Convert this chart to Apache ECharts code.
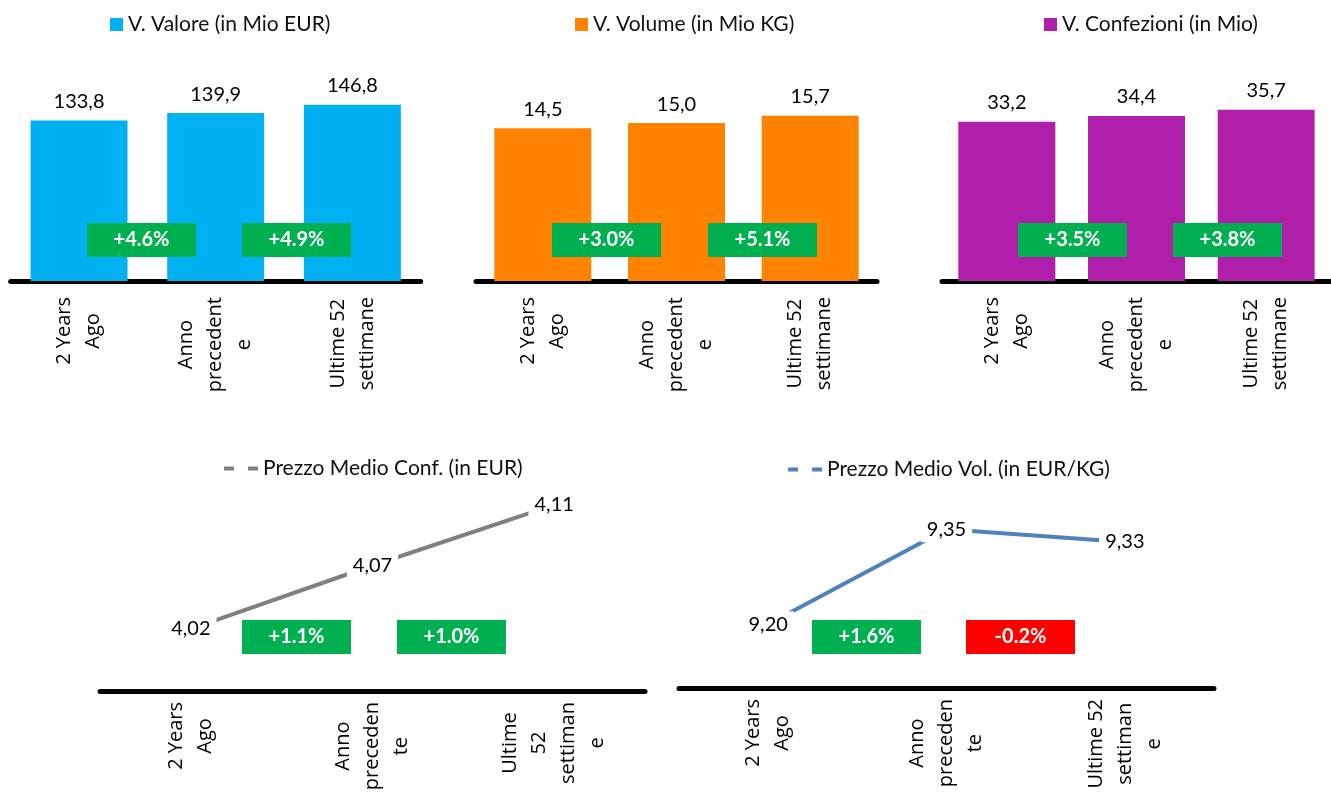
<!DOCTYPE html>
<html>
<head>
<meta charset="utf-8">
<script src="https://cdn.jsdelivr.net/npm/echarts@6/dist/echarts.min.js"></script>
<style>
  html, body { margin: 0; padding: 0; background: #fff; }
  #chart { width: 1331px; height: 794px; }
</style>
</head>
<body>
<div id="chart"></div>
<script>
// categories, wrapped the same way as in the original sheet
const barCategories = ['2 Years\nAgo', 'Anno\nprecedent\ne', 'Ultime 52\nsettimane'];
const confCategories = ['2 Years\nAgo', 'Anno\npreceden\nte', 'Ultime\n52\nsettiman\ne'];
const volCategories = ['2 Years\nAgo', 'Anno\npreceden\nte', 'Ultime 52\nsettiman\ne'];

// series values
const valoreValues = [133.8, 139.9, 146.8];
const volumeValues = [14.5, 15.0, 15.7];
const confezioniValues = [33.2, 34.4, 35.7];
const prezzoConfValues = [4.02, 4.066, 4.11];
const prezzoVolValues = [9.20, 9.35, 9.33];

// variation badges
const valoreChange = ['+4.6%', '+4.9%'];
const volumeChange = ['+3.0%', '+5.1%'];
const confezioniChange = ['+3.5%', '+3.8%'];
const prezzoConfChange = ['+1.1%', '+1.0%'];
const prezzoVolChange = ['+1.6%', '-0.2%'];

const names = ['V. Valore (in Mio EUR)', 'V. Volume (in Mio KG)', 'V. Confezioni (in Mio)',
  'Prezzo Medio Conf. (in EUR)', 'Prezzo Medio Vol. (in EUR/KG)'];

const LABEL_FONT = 'Lato';
const AXIS_FONT = '"Open Sans"';

const chart = echarts.init(document.getElementById('chart'));

const comma = (d) => (p) => p.value.toFixed(d).replace('.', ',');

function xAxisFor(gridIndex, data, margin) {
  return {
    type: 'category',
    gridIndex,
    data,
    axisTick: { show: false },
    axisLine: { lineStyle: { color: '#000', width: 5 } },
    axisLabel: {
      interval: 0,
      rotate: 90,
      margin,
      fontFamily: AXIS_FONT,
      fontSize: 20,
      color: '#000',
      formatter: (v) => v.split('\n').map(s => '{c|' + s + '}').join('\n'),
      rich: {
        c: { align: 'center', fontFamily: AXIS_FONT, fontSize: 20, lineHeight: 29, color: '#000' }
      }
    }
  };
}

function barSeries(i, data, color) {
  return {
    name: names[i],
    type: 'bar',
    xAxisIndex: i,
    yAxisIndex: i,
    data,
    barWidth: 97,
    itemStyle: { color },
    label: {
      show: true,
      position: 'top',
      distance: 9,
      formatter: comma(1),
      fontFamily: LABEL_FONT,
      fontSize: 20,
      color: '#000'
    }
  };
}

function lineSeries(i, data, color) {
  return {
    name: names[i],
    type: 'line',
    xAxisIndex: i,
    yAxisIndex: i,
    data,
    symbol: 'circle',
    symbolSize: 1,
    lineStyle: { color, width: 4 },
    itemStyle: { color },
    label: {
      show: true,
      position: 'inside',
      formatter: comma(2),
      fontFamily: LABEL_FONT,
      fontSize: 20,
      color: '#000',
      backgroundColor: '#fff',
      padding: [3, 6]
    }
  };
}

const legendText = { fontFamily: LABEL_FONT, fontSize: 21, color: '#111' };
const dashIcon = 'path://M0,0H10V4H0Z M24,0H34V4H24Z';

// badge layout (left, top) – annotation boxes only
const badgeBoxes = [
  [87, 223], [242, 223], [552, 223], [708, 223], [1018, 223], [1173, 223],
  [242, 620], [397, 620], [812, 620], [966, 620]
];
const badgeTexts = [].concat(valoreChange, volumeChange, confezioniChange, prezzoConfChange, prezzoVolChange);

const graphic = badgeTexts.map((t, k) => ({
  type: 'group',
  left: badgeBoxes[k][0],
  top: badgeBoxes[k][1],
  z: 100,
  children: [
    { type: 'rect', z: 100, shape: { x: 0, y: 0, width: 109, height: 34 },
      style: { fill: t.charAt(0) === '-' ? '#FF0000' : '#00B050' } },
    { type: 'text', z: 101, x: 54.5, y: 17,
      style: { text: t, align: 'center', verticalAlign: 'middle', fill: '#fff',
        fontFamily: LABEL_FONT, fontWeight: 'bold', fontSize: 20 } }
  ]
}));

chart.setOption({
  backgroundColor: '#fff',
  animation: false,
  legend: [
    { data: [{ name: names[0], icon: 'rect' }], left: 105, top: 9, itemWidth: 13, itemHeight: 13, textStyle: legendText },
    { data: [{ name: names[1], icon: 'rect' }], left: 570, top: 9, itemWidth: 13, itemHeight: 13, textStyle: legendText },
    { data: [{ name: names[2], icon: 'rect' }], left: 1039, top: 9, itemWidth: 13, itemHeight: 13, textStyle: legendText },
    { data: [{ name: names[3], icon: dashIcon }], left: 219, top: 453, itemWidth: 34, itemHeight: 4, textStyle: legendText },
    { data: [{ name: names[4], icon: dashIcon }], left: 783, top: 454, itemWidth: 34, itemHeight: 4, textStyle: legendText }
  ],
  grid: [
    { left: 10.7, width: 410, top: 41, height: 240 },
    { left: 476, width: 401, top: 41, height: 240 },
    { left: 942, width: 403.5, top: 41, height: 240 },
    { left: 100, width: 545, top: 480, height: 211 },
    { left: 679, width: 535, top: 480, height: 208 }
  ],
  xAxis: [
    xAxisFor(0, barCategories, 16),
    xAxisFor(1, barCategories, 16),
    xAxisFor(2, barCategories, 16),
    xAxisFor(3, confCategories, 11),
    xAxisFor(4, volCategories, 11)
  ],
  yAxis: [
    { gridIndex: 0, type: 'value', show: false, min: 0, max: 200 },
    { gridIndex: 1, type: 'value', show: false, min: 0, max: 22.8 },
    { gridIndex: 2, type: 'value', show: false, min: 0, max: 50 },
    { gridIndex: 3, type: 'value', show: false, min: 3.975, max: 4.128 },
    { gridIndex: 4, type: 'value', show: false, min: 9.099, max: 9.428 }
  ],
  series: [
    barSeries(0, valoreValues, '#00B0F0'),
    barSeries(1, volumeValues, '#FF8200'),
    barSeries(2, confezioniValues, '#B01FAA'),
    lineSeries(3, prezzoConfValues, '#808080'),
    lineSeries(4, prezzoVolValues, '#4F81BD')
  ],
  graphic
});
</script>
</body>
</html>
